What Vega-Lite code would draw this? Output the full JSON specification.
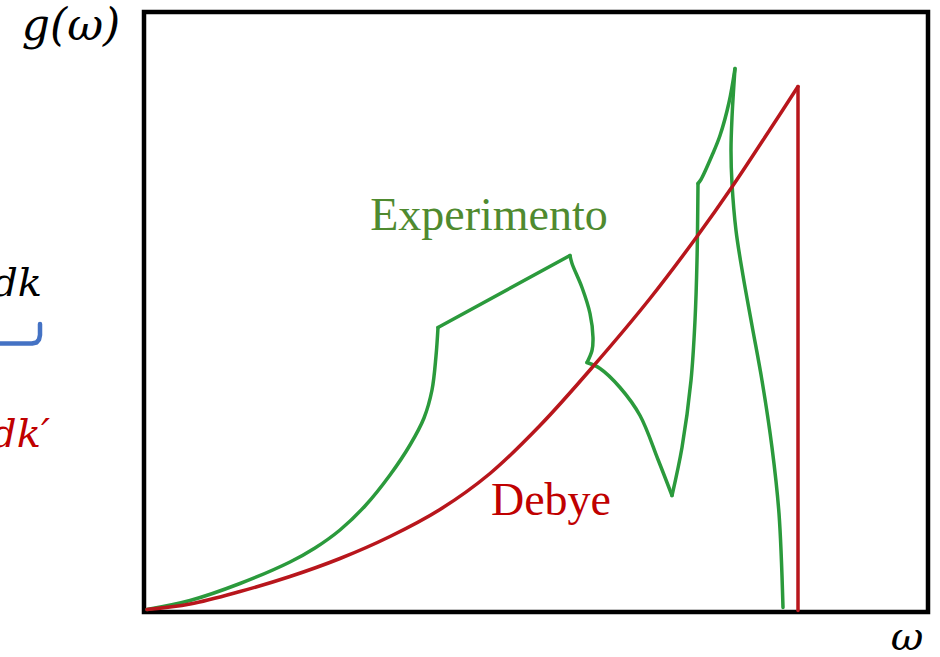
{
  "$schema": "https://vega.github.io/schema/vega-lite/v6.json",
  "width": 784,
  "height": 600,
  "autosize": {"type": "none"},
  "padding": {"left": 144, "top": 12, "right": 12, "bottom": 45},
  "background": "white",
  "config": {"view": {"stroke": "black", "strokeWidth": 4.5}},
  "datasets": {
    "curves": [
      {"series": "Experimento", "seg": "A", "i": 1, "w": 3, "g": 2.5},
      {"series": "Experimento", "seg": "A", "i": 2, "w": 46, "g": 11.5},
      {"series": "Experimento", "seg": "A", "i": 3, "w": 96, "g": 28.5},
      {"series": "Experimento", "seg": "A", "i": 4, "w": 146, "g": 50},
      {"series": "Experimento", "seg": "A", "i": 5, "w": 171, "g": 64},
      {"series": "Experimento", "seg": "A", "i": 6, "w": 196, "g": 82},
      {"series": "Experimento", "seg": "A", "i": 7, "w": 221, "g": 106},
      {"series": "Experimento", "seg": "A", "i": 8, "w": 246, "g": 137},
      {"series": "Experimento", "seg": "A", "i": 9, "w": 266, "g": 167},
      {"series": "Experimento", "seg": "A", "i": 10, "w": 280, "g": 194},
      {"series": "Experimento", "seg": "A", "i": 11, "w": 288, "g": 222},
      {"series": "Experimento", "seg": "A", "i": 12, "w": 292, "g": 256},
      {"series": "Experimento", "seg": "A", "i": 13, "w": 294, "g": 284.5},
      {"series": "Experimento", "seg": "B", "i": 13, "w": 294, "g": 284.5},
      {"series": "Experimento", "seg": "B", "i": 14, "w": 426, "g": 356.5},
      {"series": "Experimento", "seg": "C", "i": 14, "w": 426, "g": 356.5},
      {"series": "Experimento", "seg": "C", "i": 15, "w": 428, "g": 348.5},
      {"series": "Experimento", "seg": "C", "i": 16, "w": 438, "g": 324.5},
      {"series": "Experimento", "seg": "C", "i": 17, "w": 446, "g": 298.5},
      {"series": "Experimento", "seg": "C", "i": 18, "w": 449, "g": 274.5},
      {"series": "Experimento", "seg": "C", "i": 19, "w": 448, "g": 261.5},
      {"series": "Experimento", "seg": "C", "i": 20, "w": 443, "g": 249.5},
      {"series": "Experimento", "seg": "D", "i": 20, "w": 443, "g": 249.5},
      {"series": "Experimento", "seg": "D", "i": 21, "w": 456, "g": 243.5},
      {"series": "Experimento", "seg": "D", "i": 22, "w": 476, "g": 224.5},
      {"series": "Experimento", "seg": "D", "i": 23, "w": 496, "g": 196.5},
      {"series": "Experimento", "seg": "D", "i": 24, "w": 514, "g": 152.5},
      {"series": "Experimento", "seg": "D", "i": 25, "w": 528, "g": 116.5},
      {"series": "Experimento", "seg": "E", "i": 25, "w": 528, "g": 116.5},
      {"series": "Experimento", "seg": "E", "i": 26, "w": 538, "g": 164.5},
      {"series": "Experimento", "seg": "E", "i": 27, "w": 547, "g": 231.5},
      {"series": "Experimento", "seg": "E", "i": 28, "w": 551, "g": 291.5},
      {"series": "Experimento", "seg": "E", "i": 29, "w": 553, "g": 351.5},
      {"series": "Experimento", "seg": "E", "i": 30, "w": 554, "g": 428.5},
      {"series": "Experimento", "seg": "F", "i": 30, "w": 554, "g": 428.5},
      {"series": "Experimento", "seg": "F", "i": 31, "w": 557, "g": 432.5},
      {"series": "Experimento", "seg": "F", "i": 32, "w": 568, "g": 456.5},
      {"series": "Experimento", "seg": "F", "i": 33, "w": 576, "g": 476.5},
      {"series": "Experimento", "seg": "F", "i": 34, "w": 585, "g": 509.5},
      {"series": "Experimento", "seg": "F", "i": 35, "w": 591, "g": 543.5},
      {"series": "Experimento", "seg": "G", "i": 35, "w": 591, "g": 543.5},
      {"series": "Experimento", "seg": "G", "i": 36, "w": 588, "g": 494.5},
      {"series": "Experimento", "seg": "G", "i": 37, "w": 587, "g": 461.5},
      {"series": "Experimento", "seg": "G", "i": 38, "w": 588, "g": 428.5},
      {"series": "Experimento", "seg": "G", "i": 39, "w": 592, "g": 381.5},
      {"series": "Experimento", "seg": "G", "i": 40, "w": 599, "g": 336.5},
      {"series": "Experimento", "seg": "G", "i": 41, "w": 608, "g": 286.5},
      {"series": "Experimento", "seg": "G", "i": 42, "w": 618, "g": 231.5},
      {"series": "Experimento", "seg": "G", "i": 43, "w": 628, "g": 164.5},
      {"series": "Experimento", "seg": "G", "i": 44, "w": 635, "g": 98.5},
      {"series": "Experimento", "seg": "G", "i": 45, "w": 639, "g": 4.5},
      {"series": "Debye", "seg": "R1", "i": 1, "w": 3, "g": 2.5},
      {"series": "Debye", "seg": "R1", "i": 2, "w": 46, "g": 8},
      {"series": "Debye", "seg": "R1", "i": 3, "w": 96, "g": 20.5},
      {"series": "Debye", "seg": "R1", "i": 4, "w": 146, "g": 35.5},
      {"series": "Debye", "seg": "R1", "i": 5, "w": 196, "g": 53.5},
      {"series": "Debye", "seg": "R1", "i": 6, "w": 246, "g": 75.5},
      {"series": "Debye", "seg": "R1", "i": 7, "w": 296, "g": 102.5},
      {"series": "Debye", "seg": "R1", "i": 8, "w": 346, "g": 138.5},
      {"series": "Debye", "seg": "R1", "i": 9, "w": 396, "g": 186.5},
      {"series": "Debye", "seg": "R1", "i": 10, "w": 449, "g": 245.5},
      {"series": "Debye", "seg": "R1", "i": 11, "w": 506, "g": 313.5},
      {"series": "Debye", "seg": "R1", "i": 12, "w": 553, "g": 375.5},
      {"series": "Debye", "seg": "R1", "i": 13, "w": 589, "g": 426.5},
      {"series": "Debye", "seg": "R1", "i": 14, "w": 626, "g": 482.5},
      {"series": "Debye", "seg": "R1", "i": 15, "w": 654, "g": 525.5},
      {"series": "Debye", "seg": "R2", "i": 15, "w": 654, "g": 525.5},
      {"series": "Debye", "seg": "R2", "i": 16, "w": 654, "g": 1.5}
    ],
    "bracket": [
      {"i": 1, "w": -160, "g": 268.5},
      {"i": 2, "w": -112, "g": 268.5},
      {"i": 3, "w": -107.5, "g": 269.5},
      {"i": 4, "w": -105, "g": 272.5},
      {"i": 5, "w": -104, "g": 277},
      {"i": 6, "w": -104, "g": 288}
    ]
  },
  "layer": [
    {
      "data": {"name": "curves"},
      "mark": {"type": "line", "strokeWidth": 3.5, "clip": false, "strokeJoin": "round", "strokeCap": "round", "interpolate": "catmull-rom"},
      "encoding": {
        "x": {"field": "w", "type": "quantitative", "scale": {"domain": [0, 784], "nice": false, "zero": false}, "axis": null},
        "y": {"field": "g", "type": "quantitative", "scale": {"domain": [0, 600], "nice": false, "zero": false}, "axis": null},
        "order": {"field": "i", "type": "quantitative"},
        "detail": {"field": "seg", "type": "nominal"},
        "color": {"field": "series", "type": "nominal", "scale": {"domain": ["Experimento", "Debye"], "range": ["#2b9a3c", "#b8161c"]}, "legend": null}
      }
    },
    {
      "data": {"name": "bracket"},
      "mark": {"type": "line", "strokeWidth": 4.5, "color": "#4472c4", "clip": false, "strokeCap": "round", "strokeJoin": "round"},
      "encoding": {
        "x": {"field": "w", "type": "quantitative"},
        "y": {"field": "g", "type": "quantitative"},
        "order": {"field": "i", "type": "quantitative"}
      }
    },
    {
      "data": {"values": [{"label": "Experimento", "w": 345, "g": 382.5}]},
      "mark": {"type": "text", "font": "Liberation Serif", "fontSize": 46, "color": "#4f8a2f", "align": "center", "baseline": "alphabetic"},
      "encoding": {"x": {"field": "w", "type": "quantitative"}, "y": {"field": "g", "type": "quantitative"}, "text": {"field": "label"}}
    },
    {
      "data": {"values": [{"label": "Debye", "w": 407, "g": 97}]},
      "mark": {"type": "text", "font": "Liberation Serif", "fontSize": 46, "color": "#c00000", "align": "center", "baseline": "alphabetic"},
      "encoding": {"x": {"field": "w", "type": "quantitative"}, "y": {"field": "g", "type": "quantitative"}, "text": {"field": "label"}}
    },
    {
      "data": {"values": [{"label": "g(ω)", "w": -73, "g": 572}]},
      "mark": {"type": "text", "font": "DejaVu Serif", "fontStyle": "italic", "fontSize": 44, "color": "black", "align": "center", "baseline": "alphabetic", "clip": false},
      "encoding": {"x": {"field": "w", "type": "quantitative"}, "y": {"field": "g", "type": "quantitative"}, "text": {"field": "label"}}
    },
    {
      "data": {"values": [{"label": "ω", "w": 763, "g": -37.5}]},
      "mark": {"type": "text", "font": "DejaVu Serif", "fontStyle": "italic", "fontSize": 40, "color": "black", "align": "center", "baseline": "alphabetic", "clip": false},
      "encoding": {"x": {"field": "w", "type": "quantitative"}, "y": {"field": "g", "type": "quantitative"}, "text": {"field": "label"}}
    },
    {
      "data": {"values": [{"label": "dk", "w": -102, "g": 316.5}]},
      "mark": {"type": "text", "font": "DejaVu Serif", "fontStyle": "italic", "fontSize": 40, "color": "black", "align": "right", "baseline": "alphabetic", "clip": false},
      "encoding": {"x": {"field": "w", "type": "quantitative"}, "y": {"field": "g", "type": "quantitative"}, "text": {"field": "label"}}
    },
    {
      "data": {"values": [{"label": "dk′", "w": -94, "g": 165}]},
      "mark": {"type": "text", "font": "DejaVu Serif", "fontStyle": "italic", "fontSize": 40, "color": "#c00000", "align": "right", "baseline": "alphabetic", "clip": false},
      "encoding": {"x": {"field": "w", "type": "quantitative"}, "y": {"field": "g", "type": "quantitative"}, "text": {"field": "label"}}
    }
  ]
}
